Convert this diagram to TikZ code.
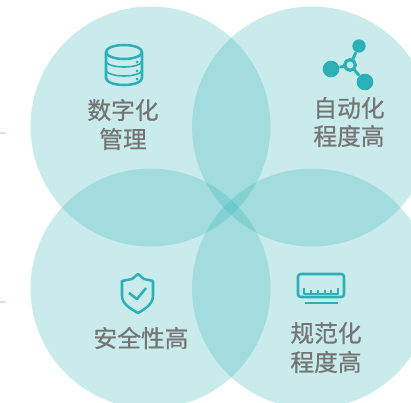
\documentclass[tikz,border=0pt]{standalone}
\usepackage{fontspec}
\setmainfont[FakeBold=0.7]{Noto Sans CJK SC}
\definecolor{tealmark}{HTML}{2BB0B5}
\definecolor{lobefill}{HTML}{C8E9EB}
\definecolor{labelgray}{HTML}{757575}
\tikzset{
    lobe/.style={shape=circle,fill=tealmark,fill opacity=0.25,minimum size=180pt,inner sep=0pt},
    label/.style={text=labelgray,font=\fontsize{17.8}{17.8}\selectfont,inner sep=0pt},
    icon/.style={draw=tealmark,line width=1.9pt,line join=round},
    dot/.style={shape=circle,fill=tealmark,inner sep=0pt},
}
\begin{document}
\begin{tikzpicture}[x=0.75pt,y=-0.75pt]
    \useasboundingbox (0,0) rectangle (411,403);

    \node[lobe] (A) at (150.5,126.5) {};
    \node[lobe] (B) at (312,126.5) {};
    \node[lobe] (C) at (150.5,288.5) {};
    \node[lobe] (D) at (312,288.5) {};

    % left ticks
    \coordinate (T1) at (0,133);
    \coordinate (T2) at (6,133);
    \coordinate (T3) at (0,302);
    \coordinate (T4) at (6,302);
    \draw[lobefill,line width=1.5pt] (T1) -- (T2);
    \draw[lobefill,line width=1.5pt] (T3) -- (T4);

    \node[label] (L1) at (123,110) {数字化};
    \node[label] (L2) at (123,139) {管理};
    \node[label] (L3) at (349,108) {自动化};
    \node[label] (L4) at (349,136) {程度高};
    \node[label] (L5) at (141,338) {安全性高};
    \node[label] (L6) at (326,333) {规范化};
    \node[label] (L7) at (326,362) {程度高};

    % database
    \draw[icon] (106,52) -- (106,78) arc[start angle=180,end angle=0,x radius=18,y radius=7] -- (142,52);
    \draw[icon] (124,52) ellipse[x radius=18,y radius=7];
    \draw[icon,line width=1.2pt] (106,61) arc[start angle=180,end angle=0,x radius=18,y radius=6];
    \draw[icon,line width=1.2pt] (106,70) arc[start angle=180,end angle=0,x radius=18,y radius=6];
    \foreach \y in {62,71,79} {
        \fill[tealmark] (137,\y) circle[radius=1.5];
    }

    % network
    \node[dot,minimum size=10pt] (N1) at (359,46) {};
    \node[dot,minimum size=12.5pt] (N2) at (331,69) {};
    \node[dot,minimum size=12.5pt] (N3) at (365,82) {};
    \path[tealmark,line width=2.2pt] (350,65) edge (N1);
    \path[tealmark,line width=2.2pt] (350,65) edge (N2);
    \path[tealmark,line width=2.2pt] (350,65) edge (N3);
    \node[shape=circle,draw=tealmark,fill=lobefill,line width=2.4pt,minimum size=8pt,inner sep=0pt] (N0) at (350,65) {};

    % shield
    \draw[icon] (138,274) -- (144,279) -- (153,281) -- (153,296) .. controls (153,304) and (145,309) .. (138,313) .. controls (131,309) and (122,304) .. (122,296) -- (122,281) -- (132,279) -- cycle;
    \draw[icon] (129,293) -- (137,299) -- (146,288);

    % ruler
    \draw[icon,rounded corners=2pt] (298,274) rectangle (344,297);
    \draw[icon,line width=1.5pt] (304,288) -- (304,294) -- (338,294) -- (338,288);
    \foreach \x in {311,318,325,331} {
        \draw[icon,line width=1.5pt] (\x,290) -- (\x,294);
    }
    \draw[icon] (305,303) -- (338,303);
\end{tikzpicture}
\end{document}
